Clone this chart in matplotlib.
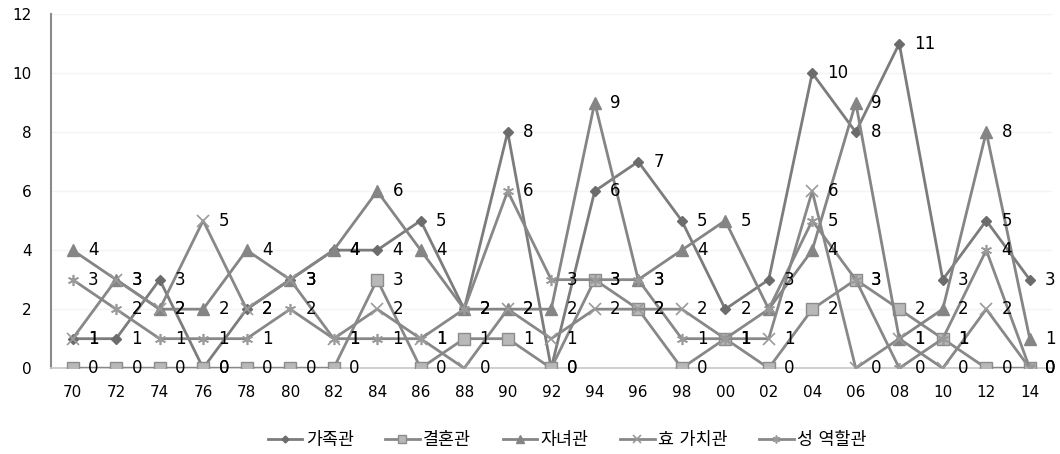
import matplotlib
matplotlib.use("Agg")
import matplotlib.pyplot as plt

plt.rcParams['font.family'] = ['DejaVu Sans', 'Noto Sans CJK KR']

# 연도 (1970 ~ 2014, 2년 간격)
annees = ['70', '72', '74', '76', '78', '80', '82', '84', '86', '88', '90', '92',
          '94', '96', '98', '00', '02', '04', '06', '08', '10', '12', '14']

# 시리즈 값
gajok = [1, 1, 3, 0, 2, 3, 4, 4, 5, 2, 8, 0, 6, 7, 5, 2, 3, 10, 8, 11, 3, 5, 3]
gyeolhon = [0, 0, 0, 0, 0, 0, 0, 3, 0, 1, 1, 0, 3, 2, 0, 1, 0, 2, 3, 2, 1, 0, 0]
janyeo = [4, 3, 2, 2, 4, 3, 4, 6, 4, 2, 2, 2, 9, 3, 4, 5, 2, 4, 9, 1, 2, 8, 1]
hyo = [1, 3, 2, 5, 2, 3, 1, 2, 1, 0, 2, 1, 2, 2, 2, 1, 1, 6, 0, 1, 0, 2, 0]
seong = [3, 2, 1, 1, 1, 2, 1, 1, 1, 2, 6, 3, 3, 3, 1, 1, 2, 5, 3, 0, 1, 4, 0]

noms = ['가족관', '결혼관', '자녀관', '효 가치관', '성 역할관']

fig = plt.figure(figsize=(10.6, 4.54), dpi=100)
ax = fig.add_axes([0.048, 0.189, 0.944, 0.78])

x = list(range(len(annees)))

# style de chaque série
styles = [
    dict(marker='D', ms=5, mfc='#6c6c6c', mec='#6c6c6c', color='#7c7c7c'),
    dict(marker='s', ms=8, mfc='#b8b8b8', mec='#8c8c8c', color='#888888'),
    dict(marker='^', ms=8, mfc='#858585', mec='#858585', color='#858585'),
    dict(marker='x', ms=8, mfc='none', mec='#9a9a9a', mew=1.2, color='#888888'),
    dict(marker=(6, 2, 0), ms=8, mfc='none', mec='#9a9a9a', mew=1.2, color='#888888'),
]

series = [gajok, gyeolhon, janyeo, hyo, seong]
for vals, nom, st in zip(series, noms, styles):
    ax.plot(x, vals, lw=2.0, label=nom, zorder=3, **st)
    for xi, v in zip(x, vals):
        ax.annotate(str(v), (xi, v), xytext=(11, 0), textcoords='offset points',
                    ha='left', va='center', fontsize=12, color='black', zorder=4)

ax.set_xlim(-0.5, len(annees) - 0.5)
ax.set_ylim(0, 12)
ax.set_yticks(range(0, 13, 2))
ax.set_xticks(x)
ax.set_xticklabels(annees)
ax.tick_params(axis='both', length=0, labelsize=11)
ax.tick_params(axis='y', pad=14)
ax.tick_params(axis='x', pad=12)

ax.grid(axis='y', color='#f4f4f4', lw=1)
ax.set_axisbelow(True)
for s in ['top', 'right']:
    ax.spines[s].set_visible(False)
ax.spines['left'].set_color('#8a8a8a')
ax.spines['left'].set_linewidth(1.5)
ax.spines['bottom'].set_color('#c8c8c8')
ax.spines['bottom'].set_linewidth(1.2)

leg = fig.legend(loc='center', bbox_to_anchor=(0.535, 0.03), ncol=5, frameon=False,
                 fontsize=12.5, handlelength=2.0, columnspacing=1.8, handletextpad=0.2,
                 markerscale=0.7)
for h in leg.legend_handles:
    h.set_linewidth(2)

fig.savefig('out.png', dpi=100)
